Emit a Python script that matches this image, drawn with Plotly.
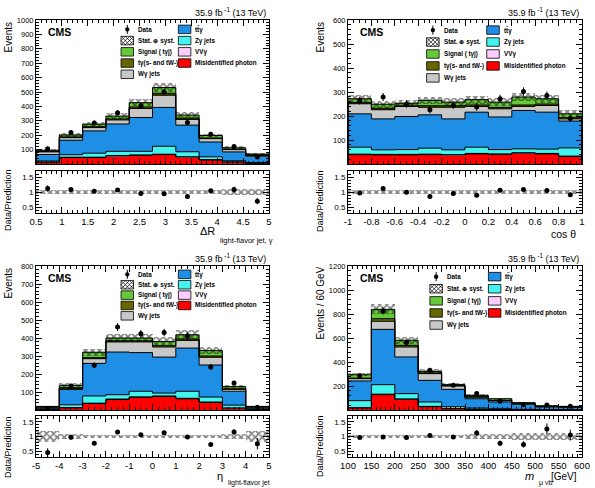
import numpy as np
import plotly.graph_objects as go

# ---------------- DATA ----------------
# Panel 1: Delta R (light-flavor jet, photon)
dr_edges = [0.5, 0.95, 1.4, 1.85, 2.3, 2.75, 3.2, 3.65, 4.1, 4.55, 5.0]
dr_misid = [12, 45, 45, 55, 60, 65, 48, 28, 13, 5]
dr_vvg = [1, 2, 2, 3, 3, 3, 2, 2, 1, 1]
dr_zg = [8, 18, 28, 30, 25, 55, 35, 20, 8, 3]
dr_ttg = [45, 100, 155, 190, 235, 270, 185, 103, 62, 45]
dr_wg = [18, 18, 23, 28, 63, 86, 40, 23, 16, 7]
dr_tg = [3, 5, 6, 7, 10, 12, 8, 5, 3, 2]
dr_sig = [8, 14, 18, 20, 30, 40, 22, 17, 10, 6]
dr_data = [106, 218, 285, 356, 405, 500, 288, 206, 122, 48]
dr_unc = [0.07, 0.06, 0.06, 0.06, 0.06, 0.06, 0.06, 0.06, 0.09, 0.10]
dr_xticks = [0.5, 1, 1.5, 2, 2.5, 3, 3.5, 4, 4.5, 5]
dr_xlabels = ["0.5", "1", "1.5", "2", "2.5", "3", "3.5", "4", "4.5", "5"]
dr_yticks = [100, 200, 300, 400, 500, 600, 700, 800, 900, 1000]

# Panel 2: cos theta
ct_edges = [-1.0, -0.8, -0.6, -0.4, -0.2, 0.0, 0.2, 0.4, 0.6, 0.8, 1.0]
ct_misid = [39, 38, 38, 39, 37, 42, 40, 45, 42, 31]
ct_vvg = [2, 2, 2, 2, 2, 2, 2, 2, 2, 2]
ct_zg = [29, 19, 20, 25, 20, 26, 18, 16, 18, 34]
ct_ttg = [139, 129, 138, 139, 129, 146, 136, 160, 154, 112]
ct_wg = [42, 38, 42, 32, 49, 24, 34, 17, 28, 9]
ct_tg = [6, 6, 5, 6, 6, 6, 6, 6, 6, 5]
ct_sig = [15, 17, 8, 22, 15, 22, 22, 33, 22, 16]
ct_data = [264, 279, 250, 226, 245, 238, 272, 302, 285, 190]
ct_unc = [0.06, 0.06, 0.06, 0.06, 0.06, 0.06, 0.06, 0.06, 0.06, 0.07]
ct_xticks = [-1, -0.8, -0.6, -0.4, -0.2, 0, 0.2, 0.4, 0.6, 0.8, 1]
ct_xlabels = ["-1", "-0.8", "-0.6", "-0.4", "-0.2", "0", "0.2", "0.4", "0.6", "0.8", "1"]
ct_yticks = [100, 200, 300, 400, 500, 600]

# Panel 3: eta of light-flavor jet
eta_edges = [-5, -4, -3, -2, -1, 0, 1, 2, 3, 4, 5]
eta_misid = [2, 12, 36, 58, 70, 75, 62, 42, 10, 2]
eta_vvg = [0.5, 1, 2, 3, 3, 3, 3, 2, 1, 0.5]
eta_zg = [4, 16, 40, 24, 31, 16, 39, 28, 16, 4]
eta_ttg = [9, 85, 181, 237, 215, 200, 240, 178, 77, 9]
eta_wg = [2, 7, 26, 56, 59, 56, 43, 44, 11, 2]
eta_tg = [0.5, 3, 6, 7, 7, 7, 7, 6, 3, 0.5]
eta_sig = [2, 13, 30, 15, 15, 24, 24, 30, 12, 2]
eta_data = [9, 133, 248, 461, 424, 430, 411, 239, 150, 15]
eta_unc = [0.20, 0.08, 0.06, 0.06, 0.06, 0.06, 0.06, 0.06, 0.08, 0.20]
eta_xticks = [-5, -4, -3, -2, -1, 0, 1, 2, 3, 4, 5]
eta_xlabels = ["-5", "-4", "-3", "-2", "-1", "0", "1", "2", "3", "4", "5"]
eta_yticks = [100, 200, 300, 400, 500, 600, 700, 800]

# Panel 4: m(mu nu b)
m_edges = [100, 150, 200, 250, 300, 350, 400, 450, 500, 550, 600]
m_misid = [17, 128, 89, 28, 11, 5, 3, 2, 1, 1]
m_vvg = [2, 4, 3, 2, 1, 1, 1, 0.5, 0.5, 0.5]
m_zg = [59, 79, 44, 37, 16, 10, 6, 3, 2, 2]
m_ttg = [164, 461, 306, 180, 144, 78, 57, 42, 22, 19]
m_wg = [19, 67, 83, 56, 28, 14, 11, 6, 4, 4]
m_tg = [5, 22, 14, 6, 3, 3, 2, 1, 1, 1]
m_sig = [28, 78, 42, 13, 8, 11, 14, 6, 3, 3]
m_data = [285, 825, 563, 332, 207, 137, 72, 44, 42, 32]
m_unc = [0.05, 0.05, 0.05, 0.05, 0.05, 0.07, 0.10, 0.12, 0.13, 0.13]
m_xticks = [100, 150, 200, 250, 300, 350, 400, 450, 500, 550, 600]
m_xlabels = ["100", "150", "200", "250", "300", "350", "400", "450", "500", "550", "600"]
m_yticks = [200, 400, 600, 800, 1000, 1200]

ratio_ticks = [0.5, 1, 1.5]
ratio_labels = ["0.5", "1", "1.5"]

comp_names = ["Misidentified photon", "VVγ", "Zγ jets", "tt̄γ", "Wγ jets", "tγ(s- and tW-)", "Signal ( tγj)"]
comp_colors = ["#ff0000", "#ffccff", "#44f2ee", "#1f8fe6", "#c8c8c8", "#666600", "#66c93a"]

W, H = 595, 488
FONT = "Liberation Sans, Arial, sans-serif"

def px_x(v):
    return v / W

def px_y(v):
    return 1 - v / H

colL = [px_x(36), px_x(269)]
colR = [px_x(348), px_x(582)]
rowT_main = [px_y(164), px_y(20)]
rowT_ratio = [px_y(213), px_y(171)]
rowB_main = [px_y(410), px_y(266)]
rowB_ratio = [px_y(457), px_y(416)]

panels = [
    dict(edges=dr_edges, comps=[dr_misid, dr_vvg, dr_zg, dr_ttg, dr_wg, dr_tg, dr_sig], data=dr_data, unc=dr_unc,
         xt=dr_xticks, xl=dr_xlabels, yt=dr_yticks, ymax=1000, xminor=0.1, yminor=20,
         col=colL, main=rowT_main, ratio=rowT_ratio, leg=(0.365, 0.611, 0.935, 0.078)),
    dict(edges=ct_edges, comps=[ct_misid, ct_vvg, ct_zg, ct_ttg, ct_wg, ct_tg, ct_sig], data=ct_data, unc=ct_unc,
         xt=ct_xticks, xl=ct_xlabels, yt=ct_yticks, ymax=600, xminor=0.05, yminor=20,
         col=colR, main=rowT_main, ratio=rowT_ratio, leg=(0.336, 0.593, 0.93, 0.083)),
    dict(edges=eta_edges, comps=[eta_misid, eta_vvg, eta_zg, eta_ttg, eta_wg, eta_tg, eta_sig], data=eta_data, unc=eta_unc,
         xt=eta_xticks, xl=eta_xlabels, yt=eta_yticks, ymax=800, xminor=0.25, yminor=20,
         col=colL, main=rowB_main, ratio=rowB_ratio, leg=(0.365, 0.611, 0.942, 0.072)),
    dict(edges=m_edges, comps=[m_misid, m_vvg, m_zg, m_ttg, m_wg, m_tg, m_sig], data=m_data, unc=m_unc,
         xt=m_xticks, xl=m_xlabels, yt=m_yticks, ymax=1200, xminor=10, yminor=40,
         col=colR, main=rowB_main, ratio=rowB_ratio, leg=(0.35, 0.60, 0.926, 0.084)),
]

fig = go.Figure()
layout = dict(width=W, height=H, autosize=False, margin=dict(l=0, r=0, t=0, b=0, pad=0, autoexpand=False),
              paper_bgcolor="white", plot_bgcolor="white", barmode="overlay", bargap=0,
              showlegend=False, font=dict(family=FONT, color="black"))
shapes = []
annotations = []

hatch = dict(shape="x", fgcolor="black", bgcolor="rgba(0,0,0,0)", size=5, solidity=0.55, fillmode="overlay")

def axname(i):
    return "" if i == 1 else str(i)

for p, P in enumerate(panels):
    im, ir = 2 * p + 1, 2 * p + 2
    xm, ym, xr, yr = "x" + axname(im), "y" + axname(im), "x" + axname(ir), "y" + axname(ir)
    edges = np.array(P["edges"], dtype=float)
    centers = (edges[:-1] + edges[1:]) / 2
    widths = edges[1:] - edges[:-1]
    cum = np.zeros(len(centers))
    tops = []
    for vals, color in zip(P["comps"], comp_colors):
        v = np.array(vals, dtype=float)
        fig.add_trace(go.Bar(x=centers, y=v, base=cum.copy(), width=widths, xaxis=xm, yaxis=ym,
                             marker=dict(color=color, line=dict(width=0)), hoverinfo="skip"))
        cum = cum + v
        tops.append(cum.copy())
    total = cum
    unc = np.array(P["unc"])
    for t in tops:
        xs = [edges[0]] + list(edges) + [edges[-1]]
        ys = [0] + list(t) + [t[-1], 0]
        fig.add_trace(go.Scatter(x=xs, y=ys, mode="lines", line=dict(color="black", width=1, shape="hv"),
                                 xaxis=xm, yaxis=ym, hoverinfo="skip"))
    fig.add_trace(go.Bar(x=centers, y=2 * total * unc, base=total * (1 - unc), width=widths, xaxis=xm, yaxis=ym,
                         marker=dict(color="rgba(0,0,0,0)", line=dict(width=0), pattern=hatch), hoverinfo="skip"))
    data = np.array(P["data"], dtype=float)
    fig.add_trace(go.Scatter(x=centers, y=data, mode="markers", xaxis=xm, yaxis=ym,
                             marker=dict(color="black", size=5),
                             error_y=dict(type="data", array=np.sqrt(data), color="black", thickness=1, width=0)))
    fig.add_trace(go.Bar(x=centers, y=2 * unc, base=1 - unc, width=widths, xaxis=xr, yaxis=yr,
                         marker=dict(color="rgba(0,0,0,0)", line=dict(width=0), pattern=hatch), hoverinfo="skip"))
    fig.add_trace(go.Scatter(x=centers, y=data / total, mode="markers", xaxis=xr, yaxis=yr,
                             marker=dict(color="black", size=5),
                             error_y=dict(type="data", array=np.sqrt(data) / total, color="black", thickness=1, width=0)))

    xrange = [edges[0], edges[-1]]
    common = dict(showline=True, linecolor="black", linewidth=1, mirror="allticks", ticks="inside",
                  tickcolor="black", showgrid=False, zeroline=False, automargin=False)
    layout["xaxis" + axname(im)] = dict(common, domain=P["col"], anchor=ym, range=xrange, tickmode="array",
                                         tickvals=P["xt"], showticklabels=False, ticklen=6,
                                         minor=dict(ticks="inside", ticklen=3, tick0=edges[0], dtick=P["xminor"], tickcolor="black"))
    layout["yaxis" + axname(im)] = dict(common, domain=P["main"], anchor=xm, range=[0, P["ymax"]], tickmode="array",
                                         tickvals=P["yt"], ticktext=[str(v) for v in P["yt"]], ticklen=6,
                                         tickfont=dict(size=7.5, family=FONT),
                                         minor=dict(ticks="inside", ticklen=3, tick0=0, dtick=P["yminor"], tickcolor="black"))
    layout["xaxis" + axname(ir)] = dict(common, domain=P["col"], anchor=yr, range=xrange, tickmode="array",
                                         tickvals=P["xt"], ticktext=P["xl"], ticklen=6,
                                         tickfont=dict(size=9.5, family=FONT),
                                         minor=dict(ticks="inside", ticklen=3, tick0=edges[0], dtick=P["xminor"], tickcolor="black"))
    layout["yaxis" + axname(ir)] = dict(common, domain=P["ratio"], anchor=xr, range=[0.3, 1.7], tickmode="array",
                                         tickvals=ratio_ticks, ticktext=ratio_labels, ticklen=6,
                                         tickfont=dict(size=8, family=FONT),
                                         minor=dict(ticks="inside", ticklen=3, tick0=0.3, dtick=0.1, tickcolor="black"))

    # ---------- legend (decoration, domain coords) ----------
    xd, yd = xm + " domain", ym + " domain"
    wpx = (P["col"][1] - P["col"][0]) * W
    hpx = (P["main"][1] - P["main"][0]) * H
    lx, rx, top, step = P["leg"]
    bw, bh = 12.5 / wpx, 8.5 / hpx

    def box(x0, yc, color):
        shapes.append(dict(type="rect", xref=xd, yref=yd, x0=x0, x1=x0 + bw, y0=yc - bh / 2, y1=yc + bh / 2,
                           fillcolor=color, line=dict(color="black", width=0.8), layer="above"))

    def label(x0, yc, text):
        annotations.append(dict(xref=xd, yref=yd, x=x0 + bw + 2.5 / wpx, y=yc, text="<b>" + text + "</b>",
                                showarrow=False, xanchor="left", yanchor="middle",
                                font=dict(size=6.3, family=FONT, color="black")))

    rows = [top - k * step for k in range(5)]
    cx = lx + bw / 2
    shapes.append(dict(type="line", xref=xd, yref=yd, x0=cx, x1=cx, y0=rows[0] - 4.5 / hpx, y1=rows[0] + 4.5 / hpx,
                       line=dict(color="black", width=1)))
    shapes.append(dict(type="circle", xref=xd, yref=yd, x0=cx - 2.2 / wpx, x1=cx + 2.2 / wpx,
                       y0=rows[0] - 2.2 / hpx, y1=rows[0] + 2.2 / hpx, fillcolor="black", line=dict(width=0)))
    label(lx, rows[0], "Data")
    box(lx, rows[1], "white")
    y0h = rows[1] - bh / 2
    hp = 8.5
    for k in range(-2, 3):
        a = k * 4.2
        for sgn in (1, -1):
            xa, xb = a, a + hp
            ya, yb = (0.0, hp) if sgn == 1 else (hp, 0.0)
            if xa < 0:
                cut = -xa
                xa = 0
                ya = ya + cut * sgn
            if xb > 12.5:
                cut = xb - 12.5
                xb = 12.5
                yb = yb - cut * sgn
            if xb <= xa:
                continue
            shapes.append(dict(type="line", xref=xd, yref=yd, x0=lx + xa / wpx, x1=lx + xb / wpx,
                               y0=y0h + ya / hpx, y1=y0h + yb / hpx, line=dict(color="black", width=0.7)))
    label(lx, rows[1], "Stat. ⊕ syst.")
    box(lx, rows[2], comp_colors[6]); label(lx, rows[2], comp_names[6])
    box(lx, rows[3], comp_colors[5]); label(lx, rows[3], comp_names[5])
    box(lx, rows[4], comp_colors[4]); label(lx, rows[4], comp_names[4])
    box(rx, rows[0], comp_colors[3]); label(rx, rows[0], comp_names[3])
    box(rx, rows[1], comp_colors[2]); label(rx, rows[1], comp_names[2])
    box(rx, rows[2], comp_colors[1]); label(rx, rows[2], comp_names[1])
    box(rx, rows[3], comp_colors[0]); label(rx, rows[3], comp_names[0])
    annotations.append(dict(xref=xd, yref=yd, x=0.043, y=0.917, text="<b>CMS</b>", showarrow=False,
                            xanchor="left", yanchor="middle", font=dict(size=10.5, family=FONT, color="black")))

def ann(x, y, text, size, xanchor="center", yanchor="middle", angle=0):
    annotations.append(dict(xref="paper", yref="paper", x=px_x(x), y=px_y(y), text=text, showarrow=False,
                            xanchor=xanchor, yanchor=yanchor, textangle=angle,
                            font=dict(size=size, family=FONT, color="black")))

lumi = "35.9 fb<sup> -1</sup> (13 TeV)"
for (xr_, yt_) in [(268, 12), (581, 12), (268, 258), (581, 258)]:
    ann(xr_, yt_, lumi, 9, xanchor="right")

ann(8, 20, "Events", 10, yanchor="top", angle=-90)
ann(320, 20, "Events", 10, yanchor="top", angle=-90)
ann(8, 266, "Events", 10, yanchor="top", angle=-90)
ann(320, 265, "Events / 60 GeV", 10, yanchor="top", angle=-90)
for (xx, yy) in [(8, 200), (320, 201), (8, 447), (320, 446)]:
    ann(xx, yy, "Data/Prediction", 9, angle=-90)

ann(217, 231, "ΔR", 11, xanchor="right")
ann(218, 240, "light-flavor jet, γ", 7.5, xanchor="left")
ann(578, 234, "cos θ", 10.5, xanchor="right")
ann(225, 476, "η", 11, xanchor="right")
ann(226, 483, "light-flavor jet", 7, xanchor="left")
ann(536, 476, "<i>m</i>", 11, xanchor="right")
ann(537, 483, "μ νb", 7, xanchor="left")
ann(549, 476, "[GeV]", 10, xanchor="left")

layout["shapes"] = shapes
layout["annotations"] = annotations
fig.update_layout(**layout)
fig.write_html("out.html", config={"displayModeBar": False},
               post_script="document.body.style.margin='0';document.body.style.padding='0';")
